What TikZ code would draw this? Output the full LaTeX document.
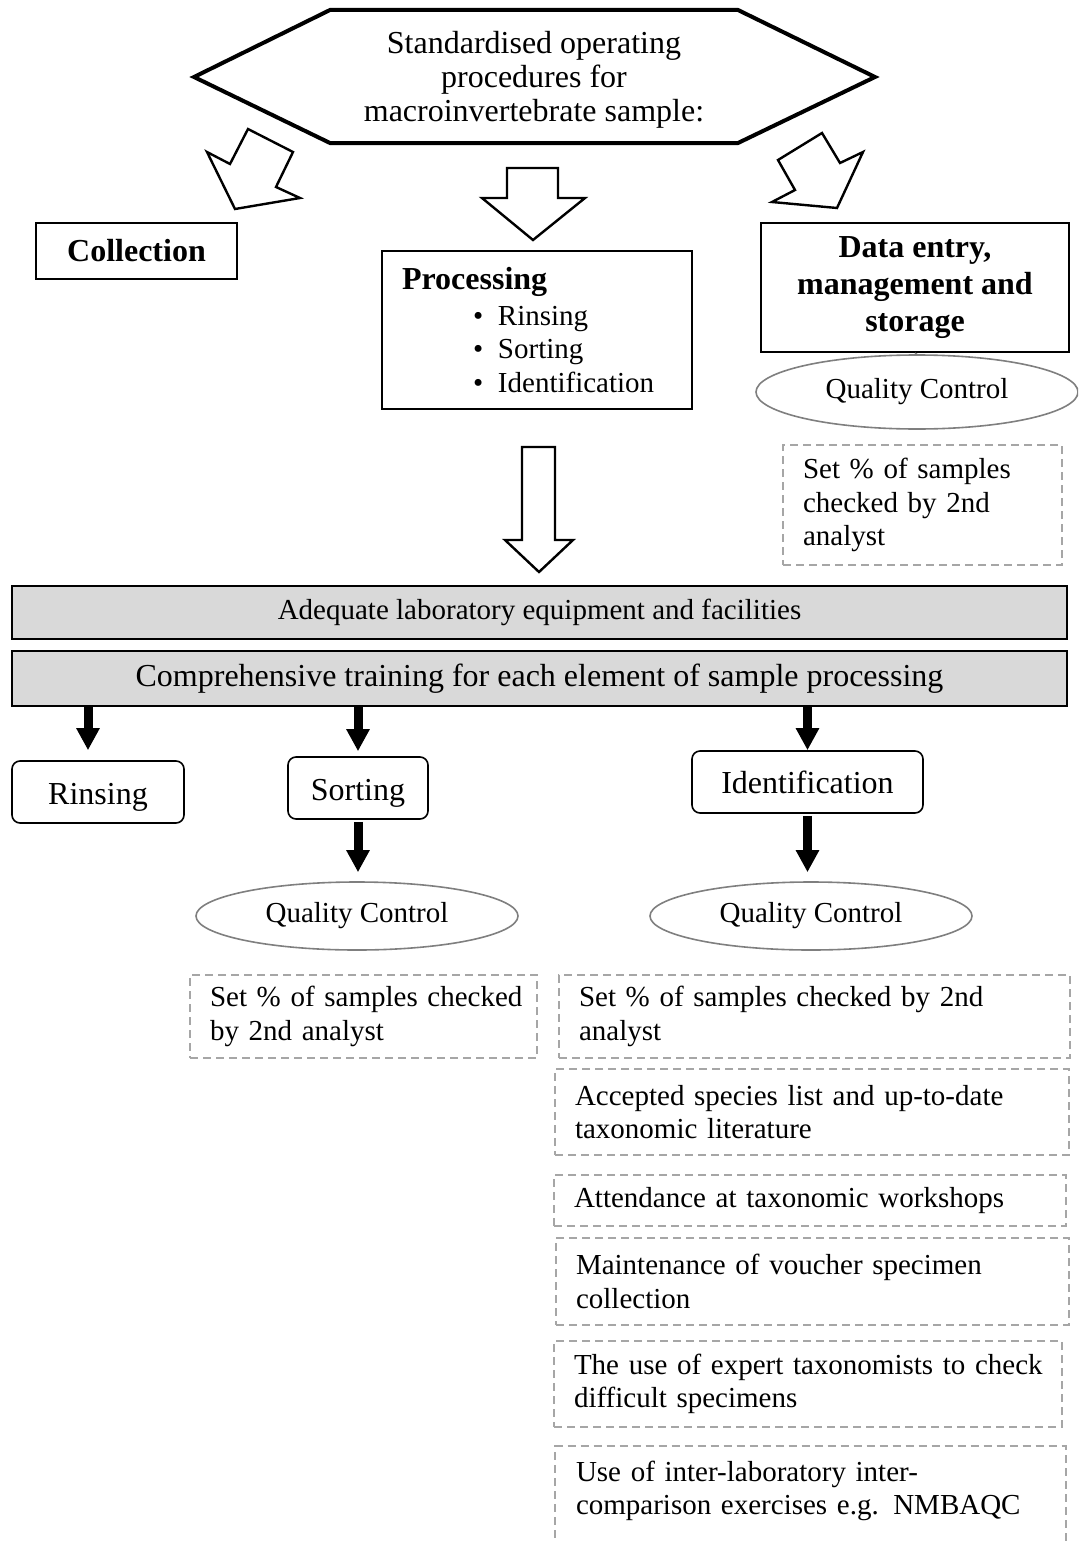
\documentclass[tikz,border=0pt]{standalone}
\usepackage{fontspec}
\setmainfont{Liberation Serif}
\usetikzlibrary{positioning, shapes.geometric, arrows.meta}
\definecolor{barfill}{HTML}{D9D9D9}
\definecolor{qcgrey}{HTML}{7F7F7F}
\definecolor{dashgrey}{HTML}{A6A6A6}

\begin{document}
\begin{tikzpicture}[x=0.5pt, y=-0.5pt,
  every node/.style={font=\fontsize{14.5}{16.8}\selectfont},
  hexline/.style={line width=2pt, line join=miter},
  bigarrow/.style={draw, line width=1.2pt, fill=white, line join=miter},
  headbox/.style={draw, line width=1pt, inner sep=0pt, align=center,
    font=\fontsize{16}{18.5}\selectfont\bfseries},
  greybar/.style={draw, line width=1.2pt, fill=barfill, inner sep=0pt,
    minimum width=527.5pt},
  stepbox/.style={draw, rounded corners=4pt, line width=0.8pt, inner sep=0pt,
    minimum height=31pt, font=\fontsize{16}{18}\selectfont},
  qc/.style={ellipse, draw=qcgrey, line width=0.8pt, inner sep=0pt},
  checkbox/.style={draw=dashgrey, dash pattern=on 4pt off 2.5pt, line width=0.8pt,
    align=left, inner xsep=10pt, inner ysep=0pt},
  thickarrow/.style={line width=4.5pt, -{Triangle[width=11pt, length=11pt]}}]

  \useasboundingbox (0,0) rectangle (1078,1541);
  \clip (0,0) rectangle (1078,1541);

  % top hexagon
  \draw [hexline] (194,77) -- (330,10) -- (738,10) -- (875,77) -- (738,143) -- (330,143) -- cycle;
  \node (sop) at (534,80) [align=center, font=\fontsize{16}{17}\selectfont]
    {Standardised operating\\procedures for\\macroinvertebrate sample:};

  % the three hollow arrows
  \draw [bigarrow] (248,129) -- (293,152) -- (276,187) -- (300,198) -- (235,209) -- (207,152) -- (230,164) -- cycle;
  \draw [bigarrow] (507,168) -- (558,168) -- (558,198) -- (585,198) -- (533,240) -- (482,198) -- (507,198) -- cycle;
  \draw [bigarrow] (822,133) -- (840,163) -- (863,152) -- (837,208) -- (772,202) -- (795,190) -- (778,160) -- cycle;

  \node (collect) at (136.5,251) [headbox, minimum width=100.5pt, minimum height=28pt] {Collection};
  \node (proc) at (537,330) [draw, line width=1pt, inner xsep=10pt, inner ysep=0pt,
    minimum height=79pt, text width=135pt, align=left]
    {{\fontsize{16}{17}\selectfont\bfseries Processing}\\[1pt]
     \hspace*{35.5pt}\makebox[12.5pt][l]{\textbullet}Rinsing\\
     \hspace*{35.5pt}\makebox[12.5pt][l]{\textbullet}Sorting\\
     \hspace*{35.5pt}\makebox[12.5pt][l]{\textbullet}Identification};
  \node (data) at (915,287.5) [headbox, minimum width=154pt, minimum height=64.5pt]
    {Data entry,\\management and\\storage};

  \node (qc1) at (917,392) [qc, minimum width=161pt, minimum height=37pt] {Quality Control};
  \draw [qcgrey, line width=0.6pt] (data.south) -- (qc1.north);
  \node (dqc1) at (922.5,505) [checkbox, text width=119.5pt, minimum height=60pt]
    {Set \% of samples\\checked by 2nd\\analyst};

  % hollow arrow down to the bars
  \draw [bigarrow] (522,447) -- (555,447) -- (555,540) -- (573,540) -- (539,572) -- (505,540) -- (522,540) -- cycle;

  \node (bar1) at (539.5,612.5) [greybar, minimum height=26.5pt]
    {Adequate laboratory equipment and facilities};
  \node (bar2) at (539.5,678.5) [greybar, minimum height=27.5pt, font=\fontsize{16}{18}\selectfont]
    {Comprehensive training for each element of sample processing};

  \node (rinse) at (98,792) [stepbox, minimum width=86pt, text height=15.6pt, text depth=3.5pt] {Rinsing};
  \node (sort) at (358,788) [stepbox, minimum width=70pt, text height=15.8pt, text depth=3.5pt] {Sorting};
  \node (ident) at (807.5,782) [stepbox, minimum width=115.5pt] {Identification};

  \coordinate (rinsetop) at ([xshift=-5pt]rinse.north);
  \draw [thickarrow, shorten >=5pt] (bar2.south -| rinsetop) -- (rinsetop);
  \draw [thickarrow, shorten >=2.5pt] (bar2.south -| sort.north) -- (sort.north);
  \draw [thickarrow] (bar2.south -| ident.north) -- (ident.north);

  \node (qc2) at (357,916) [qc, minimum width=161pt, minimum height=34pt] {Quality Control};
  \node (qc3) at (811,916) [qc, minimum width=161pt, minimum height=34pt] {Quality Control};
  \draw [thickarrow, shorten <=1pt, shorten >=4.5pt] (sort.south) -- (sort.south |- qc2.north);
  \draw [thickarrow, shorten <=1pt, shorten >=4.5pt] (ident.south) -- (ident.south |- qc3.north);

  % checks under each quality control
  \node (dqc2) at (363.5,1016.5) [checkbox, text width=153.5pt, minimum height=41.5pt]
    {\mbox{Set \% of samples checked}\\by 2nd analyst};
  \node (dqc3) at (814.5,1016.5) [checkbox, text width=235.5pt, minimum height=41.5pt]
    {\mbox{Set \% of samples checked by 2nd}\\analyst};
  \node (dlist) at (812,1112) [checkbox, text width=237pt, minimum height=43pt]
    {\mbox{Accepted species list and up-to-date}\\taxonomic literature};
  \node (dwork) at (810,1200.5) [checkbox, text width=236pt, minimum height=25.5pt]
    {\mbox{Attendance at taxonomic workshops}};
  \node (dvouch) at (812.5,1281.5) [checkbox, text width=236.5pt, minimum height=43.5pt]
    {\mbox{Maintenance of voucher specimen}\\collection};
  \node (dexpert) at (808,1384) [checkbox, text width=234pt, minimum height=43pt]
    {\mbox{The use of expert taxonomists to check}\\difficult specimens};
  \node (dinter) at (810.5,1491) [checkbox, draw=none, text width=234.5pt, minimum height=44pt]
    {\mbox{Use of inter-laboratory inter-}\\\mbox{comparison exercises e.g. NMBAQC}};
  \draw [dashgrey, dash pattern=on 4pt off 2.5pt, line width=0.8pt]
    ([yshift=-40pt]dinter.south west) |- (dinter.north east) -- ([yshift=-40pt]dinter.south east);
\end{tikzpicture}
\end{document}
